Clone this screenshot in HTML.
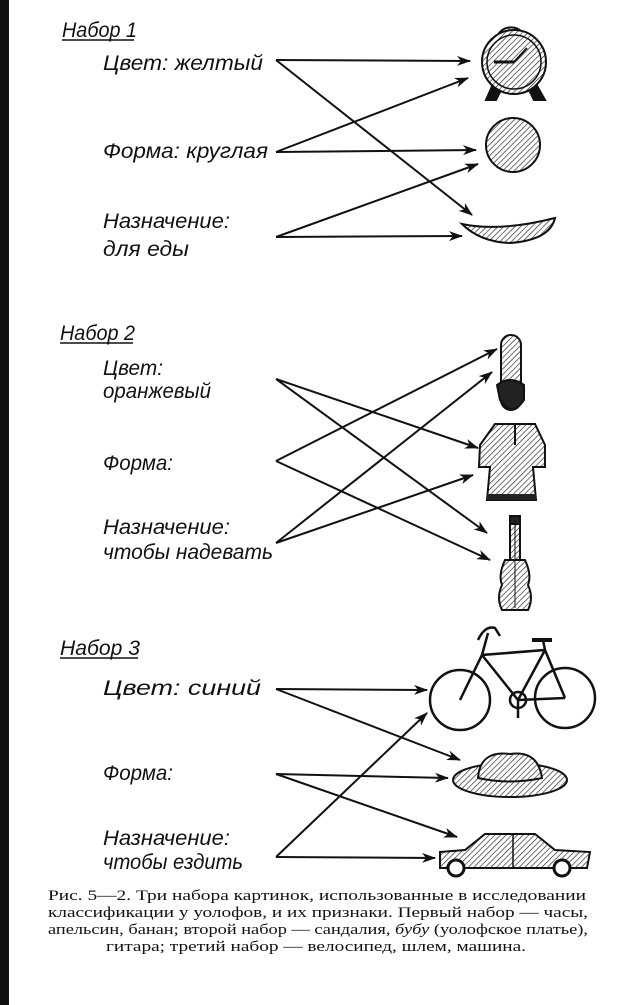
<!DOCTYPE html>
<html><head><meta charset="utf-8"><style>
html,body{margin:0;padding:0;background:#fff}
svg{display:block}
.l{font-family:"Liberation Sans",sans-serif;font-style:italic;font-size:21px;fill:#111}
.c{font-family:"Liberation Serif",serif;font-size:15px;fill:#111}
</style></head><body>
<svg width="620" height="1005" viewBox="0 0 620 1005" xmlns="http://www.w3.org/2000/svg">
<defs>
<pattern id="h" width="4" height="4" patternUnits="userSpaceOnUse" patternTransform="rotate(45)">
<rect width="4" height="4" fill="#fff"/><line x1="0" y1="0" x2="0" y2="4" stroke="#222" stroke-width="1.3"/></pattern>
<marker id="a" markerWidth="14" markerHeight="10" refX="13" refY="5" orient="auto" markerUnits="userSpaceOnUse">
<path d="M0,0 L14,5 L0,10 L4,5 Z" fill="#111"/></marker>
</defs>
<rect x="0" y="0" width="9" height="1005" fill="#111"/>

<!-- Set 1 labels -->
<text class="l" x="62" y="37" textLength="75" lengthAdjust="spacingAndGlyphs">Набор 1</text>
<line x1="62" y1="40" x2="134" y2="40" stroke="#111" stroke-width="1.5"/>
<text class="l" x="103" y="70" textLength="160" lengthAdjust="spacingAndGlyphs">Цвет: желтый</text>
<text class="l" x="103" y="158" textLength="165" lengthAdjust="spacingAndGlyphs">Форма: круглая</text>
<text class="l" x="103" y="228" textLength="127" lengthAdjust="spacingAndGlyphs">Назначение:</text>
<text class="l" x="103" y="256" textLength="86" lengthAdjust="spacingAndGlyphs">для еды</text>

<!-- Set 2 labels -->
<text class="l" x="60" y="340" textLength="75" lengthAdjust="spacingAndGlyphs">Набор 2</text>
<line x1="60" y1="343" x2="133" y2="343" stroke="#111" stroke-width="1.5"/>
<text class="l" x="103" y="375" textLength="60" lengthAdjust="spacingAndGlyphs">Цвет:</text>
<text class="l" x="103" y="398" textLength="108" lengthAdjust="spacingAndGlyphs">оранжевый</text>
<text class="l" x="103" y="470" textLength="70" lengthAdjust="spacingAndGlyphs">Форма:</text>
<text class="l" x="103" y="534" textLength="127" lengthAdjust="spacingAndGlyphs">Назначение:</text>
<text class="l" x="103" y="559" textLength="170" lengthAdjust="spacingAndGlyphs">чтобы надевать</text>

<!-- Set 3 labels -->
<text class="l" x="60" y="655" textLength="80" lengthAdjust="spacingAndGlyphs">Набор 3</text>
<line x1="60" y1="658" x2="138" y2="658" stroke="#111" stroke-width="1.5"/>
<text class="l" x="103" y="695" textLength="158" lengthAdjust="spacingAndGlyphs">Цвет: синий</text>
<text class="l" x="103" y="780" textLength="70" lengthAdjust="spacingAndGlyphs">Форма:</text>
<text class="l" x="103" y="845" textLength="127" lengthAdjust="spacingAndGlyphs">Назначение:</text>
<text class="l" x="103" y="869" textLength="140" lengthAdjust="spacingAndGlyphs">чтобы ездить</text>

<!-- Arrows -->
<g stroke="#111" stroke-width="2" fill="none" marker-end="url(#a)">
<line x1="276" y1="60" x2="470" y2="61"/>
<line x1="276" y1="60" x2="472" y2="215"/>
<line x1="276" y1="152" x2="476" y2="150"/>
<line x1="276" y1="152" x2="468" y2="78"/>
<line x1="276" y1="237" x2="462" y2="236"/>
<line x1="276" y1="237" x2="478" y2="164"/>

<line x1="276" y1="379" x2="478" y2="448"/>
<line x1="276" y1="379" x2="487" y2="533"/>
<line x1="276" y1="461" x2="497" y2="349"/>
<line x1="276" y1="461" x2="490" y2="560"/>
<line x1="276" y1="543" x2="492" y2="372"/>
<line x1="276" y1="543" x2="473" y2="475"/>

<line x1="276" y1="689" x2="427" y2="690"/>
<line x1="276" y1="689" x2="460" y2="760"/>
<line x1="276" y1="774" x2="448" y2="778"/>
<line x1="276" y1="774" x2="457" y2="837"/>
<line x1="276" y1="857" x2="427" y2="713"/>
<line x1="276" y1="857" x2="435" y2="858"/>
</g>

<!-- Clock -->
<g stroke="#111" stroke-width="2">
<path d="M500,32 A14,12 0 0 1 522,32 Z" fill="url(#h)"/>
<path d="M493,84 L486,100 L496,100 L502,88 Z" fill="#111"/>
<path d="M528,88 L534,100 L545,100 L536,84 Z" fill="#111"/>
<circle cx="514" cy="62" r="32" fill="url(#h)"/>
<circle cx="514" cy="62" r="27" fill="none" stroke-width="1.5"/>
<line x1="494" y1="62" x2="514" y2="62" stroke-width="3"/>
<line x1="514" y1="62" x2="527" y2="48" stroke-width="2"/>
</g>
<!-- Orange -->
<circle cx="513" cy="145" r="27" fill="url(#h)" stroke="#111" stroke-width="2"/>
<!-- Banana -->
<path d="M462,224 Q500,232 555,218 Q550,240 510,243 Q480,242 462,224 Z" fill="url(#h)" stroke="#111" stroke-width="2"/>

<!-- Sandal -->
<g stroke="#111" stroke-width="2">
<rect x="501" y="335" width="20" height="75" rx="10" fill="url(#h)"/>
<path d="M497,385 Q510,375 524,385 L524,400 Q512,418 500,400 Z" fill="#222"/>
</g>
<!-- Dress -->
<path d="M495,424 L535,424 L545,445 L545,467 L533,467 L536,500 L487,500 L490,467 L479,467 L480,445 Z" fill="url(#h)" stroke="#111" stroke-width="2"/>
<line x1="515" y1="424" x2="515" y2="445" stroke="#111" stroke-width="2"/>
<rect x="487" y="494" width="49" height="6" fill="#222"/>
<!-- Guitar -->
<g stroke="#111" stroke-width="2">
<rect x="510" y="516" width="10" height="8" fill="#222"/>
<rect x="510" y="524" width="10" height="40" fill="url(#h)"/>
<path d="M505,560 L525,560 Q532,575 528,585 Q534,598 528,610 L502,610 Q496,598 502,585 Q498,575 505,560 Z" fill="url(#h)"/>
<line x1="515" y1="520" x2="515" y2="608" stroke-width="1"/>
</g>

<!-- Bicycle -->
<g stroke="#111" stroke-width="2.5" fill="none">
<circle cx="460" cy="700" r="30"/>
<circle cx="565" cy="698" r="30"/>
<circle cx="518" cy="700" r="8"/>
<path d="M460,700 L482,655 L545,650 L565,698 M482,655 L518,700 L545,650 L543,640 M518,700 L565,698"/>
<path d="M478,640 Q485,625 495,628 L500,636 M488,633 L482,655"/>
<line x1="532" y1="640" x2="552" y2="640" stroke-width="4"/>
<line x1="518" y1="700" x2="518" y2="718"/>
</g>
<!-- Hat -->
<ellipse cx="510" cy="780" rx="57" ry="17" fill="url(#h)" stroke="#111" stroke-width="2"/>
<path d="M478,778 Q480,750 510,754 Q538,750 542,778 Q510,785 478,778 Z" fill="url(#h)" stroke="#111" stroke-width="2"/>
<!-- Car -->
<path d="M440,852 L465,850 L485,834 L535,834 L555,850 L590,852 L587,868 L440,868 Z" fill="url(#h)" stroke="#111" stroke-width="2"/>
<line x1="513" y1="834" x2="513" y2="868" stroke="#111" stroke-width="1.5"/>
<circle cx="456" cy="868" r="8" fill="#fff" stroke="#111" stroke-width="3"/>
<circle cx="562" cy="868" r="8" fill="#fff" stroke="#111" stroke-width="3"/>

<!-- Caption -->
<text class="c" x="48" y="900" textLength="538" lengthAdjust="spacingAndGlyphs">Рис. 5—2. Три набора картинок, использованные в исследовании</text>
<text class="c" x="48" y="917" textLength="540" lengthAdjust="spacingAndGlyphs">классификации у уолофов, и их признаки. Первый набор — часы,</text>
<text class="c" x="48" y="934" textLength="540" lengthAdjust="spacingAndGlyphs">апельсин, банан; второй набор — сандалия, <tspan font-style="italic">бубу</tspan> (уолофское платье),</text>
<text class="c" x="106" y="951" textLength="420" lengthAdjust="spacingAndGlyphs">гитара; третий набор — велосипед, шлем, машина.</text>
</svg>
</body></html>
